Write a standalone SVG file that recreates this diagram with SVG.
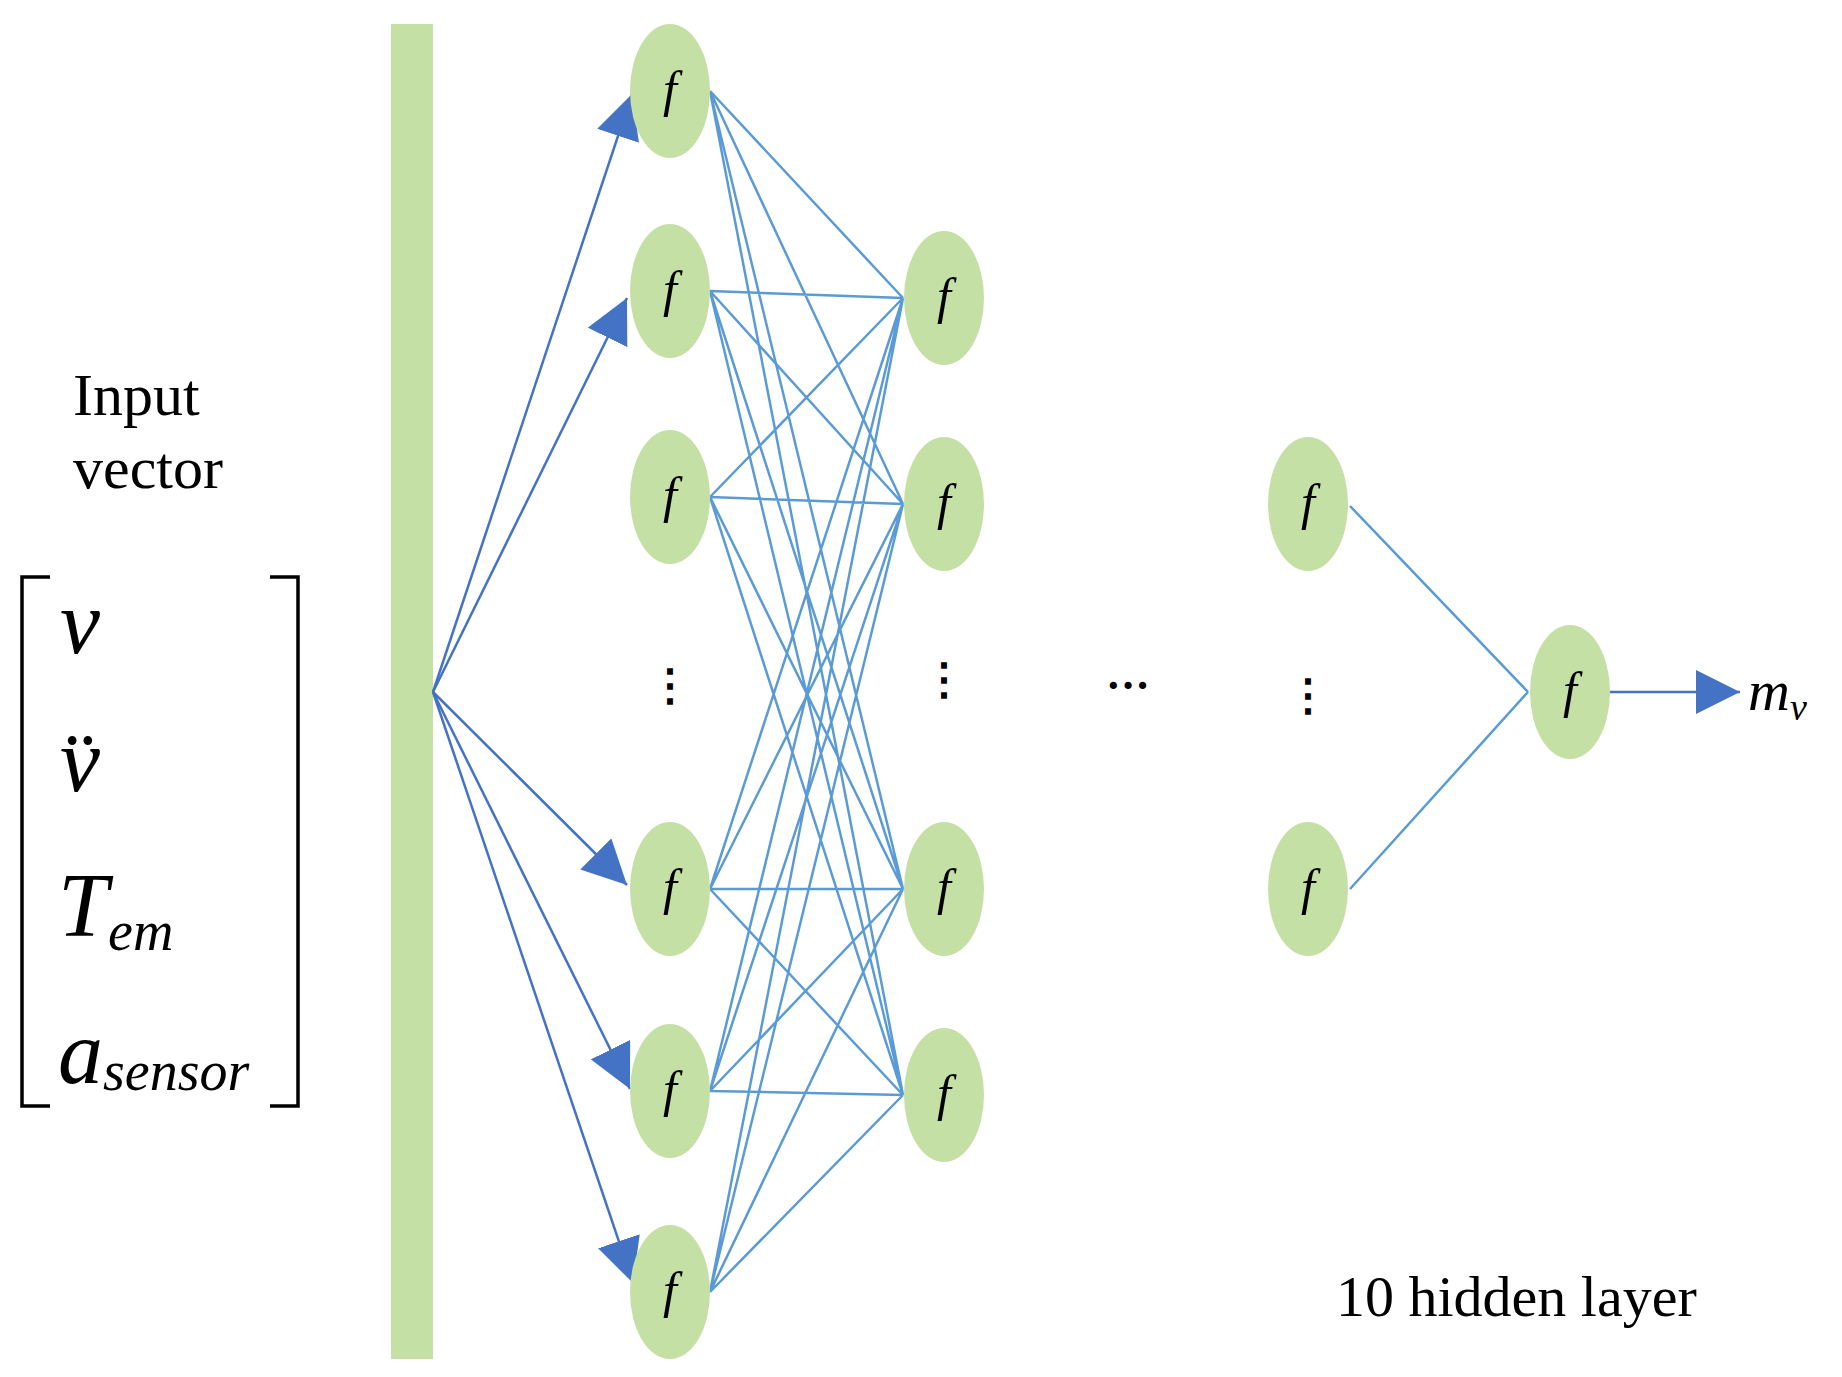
<svg xmlns="http://www.w3.org/2000/svg" width="1842" height="1377" viewBox="0 0 1842 1377">
<style>
.n{fill:#c5e0a5}
.f{font-family:"Liberation Serif",serif;font-style:italic;font-size:50px;fill:#000;text-anchor:middle}
.e{stroke:#5b9bd5;stroke-width:2.5;fill:none}
.a{stroke:#4472c4;stroke-width:2.5;fill:none}
.t{font-family:"Liberation Serif",serif;fill:#000}
.m{font-family:"Liberation Serif",serif;font-style:italic;fill:#000}
.d{font-family:"Liberation Serif",serif;font-size:44px;font-weight:bold;fill:#000;text-anchor:middle}
</style>
<defs>
<marker id="ah2" viewBox="0 0 10 10" refX="10" refY="5" markerWidth="44" markerHeight="44" markerUnits="userSpaceOnUse" orient="auto"><path d="M0,0 L10,5 L0,10 z" fill="#4472c4"/></marker>
</defs>
<rect width="1842" height="1377" fill="#fff"/>
<rect x="391" y="24" width="42" height="1335" fill="#c5e0a5"/>
<g id="labels">
<text class="t" x="73" y="415" font-size="60">Input</text>
<text class="t" x="73" y="488" font-size="60">vector</text>
<path d="M50,577 H22 V1106 H50 M270,577 H298 V1106 H270" stroke="#000" stroke-width="3.5" fill="none"/>
<text class="m" x="60" y="653" font-size="90">v</text>
<text class="m" x="60" y="791" font-size="90">v&#x308;</text>
<text class="m" x="58" y="936" font-size="90">T<tspan font-size="56" dy="14">em</tspan></text>
<text class="m" x="58" y="1083" font-size="90">a<tspan font-size="56" dy="7">sensor</tspan></text>
<text class="t" x="1336" y="1316" font-size="58">10 hidden layer</text>
<text class="m" x="1748" y="710" font-size="58">m<tspan font-size="38" dy="10">v</tspan></text>
<text class="d" x="670" y="700">⋮</text>
<text class="d" x="944" y="694">⋮</text>
<text class="d" x="1128" y="700">···</text>
<text class="d" x="1308" y="710">⋮</text>
</g>
<g id="connectors">
<path class="e" d="M710,91 L903,298 M710,91 L903,504 M710,91 L903,889 M710,91 L903,1095
M710,291 L903,298 M710,291 L903,504 M710,291 L903,889 M710,291 L903,1095
M710,497 L903,298 M710,497 L903,504 M710,497 L903,889 M710,497 L903,1095
M710,889 L903,298 M710,889 L903,504 M710,889 L903,889 M710,889 L903,1095
M710,1091 L903,298 M710,1091 L903,504 M710,1091 L903,889 M710,1091 L903,1095
M710,1292 L903,298 M710,1292 L903,504 M710,1292 L903,889 M710,1292 L903,1095
M1350,506 L1528,692 M1350,889 L1528,692"/>
<g class="a" marker-end="url(#ah2)">
<line x1="433" y1="692" x2="632" y2="94"/>
<line x1="433" y1="692" x2="627" y2="298"/>
<line x1="433" y1="692" x2="627" y2="885"/>
<line x1="433" y1="692" x2="630" y2="1089"/>
<line x1="433" y1="692" x2="633" y2="1283"/>
<line x1="1610" y1="692" x2="1740" y2="692"/>
</g>
</g>
<g id="n1a"><ellipse class="n" cx="670" cy="91" rx="40" ry="67"/><text class="f" x="670" y="106">f</text></g>
<g id="n1b"><ellipse class="n" cx="670" cy="291" rx="40" ry="67"/><text class="f" x="670" y="306">f</text></g>
<g id="n1c"><ellipse class="n" cx="670" cy="497" rx="40" ry="67"/><text class="f" x="670" y="512">f</text></g>
<g id="n1d"><ellipse class="n" cx="670" cy="889" rx="40" ry="67"/><text class="f" x="670" y="904">f</text></g>
<g id="n1e"><ellipse class="n" cx="670" cy="1091" rx="40" ry="67"/><text class="f" x="670" y="1106">f</text></g>
<g id="n1f"><ellipse class="n" cx="670" cy="1292" rx="40" ry="67"/><text class="f" x="670" y="1307">f</text></g>
<g id="n2a"><ellipse class="n" cx="944" cy="298" rx="40" ry="67"/><text class="f" x="944" y="313">f</text></g>
<g id="n2b"><ellipse class="n" cx="944" cy="504" rx="40" ry="67"/><text class="f" x="944" y="519">f</text></g>
<g id="n2c"><ellipse class="n" cx="944" cy="889" rx="40" ry="67"/><text class="f" x="944" y="904">f</text></g>
<g id="n2d"><ellipse class="n" cx="944" cy="1095" rx="40" ry="67"/><text class="f" x="944" y="1110">f</text></g>
<g id="n3a"><ellipse class="n" cx="1308" cy="504" rx="40" ry="67"/><text class="f" x="1308" y="519">f</text></g>
<g id="n3b"><ellipse class="n" cx="1308" cy="889" rx="40" ry="67"/><text class="f" x="1308" y="904">f</text></g>
<g id="out"><ellipse class="n" cx="1570" cy="692" rx="40" ry="67"/><text class="f" x="1570" y="707">f</text></g>
</svg>
